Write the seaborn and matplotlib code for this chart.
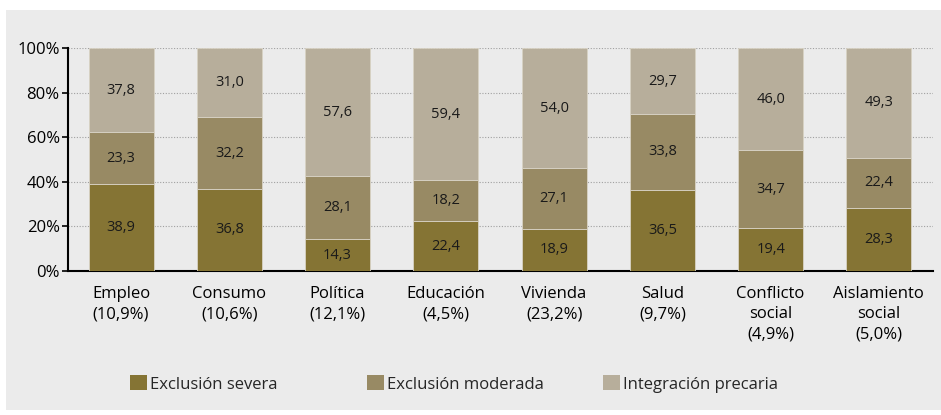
import pandas as pd
import seaborn as sns
import matplotlib.pyplot as plt
from matplotlib.patches import Rectangle
from matplotlib.ticker import PercentFormatter

# Data
categorias = ['Empleo\n(10,9%)', 'Consumo\n(10,6%)', 'Política\n(12,1%)', 'Educación\n(4,5%)',
              'Vivienda\n(23,2%)', 'Salud\n(9,7%)', 'Conflicto\nsocial\n(4,9%)', 'Aislamiento\nsocial\n(5,0%)']
severa = [38.9, 36.8, 14.3, 22.4, 18.9, 36.5, 19.4, 28.3]
moderada = [23.3, 32.2, 28.1, 18.2, 27.1, 33.8, 34.7, 22.4]
precaria = [37.8, 31.0, 57.6, 59.4, 54.0, 29.7, 46.0, 49.3]
series = ['Exclusión severa', 'Exclusión moderada', 'Integración precaria']
colores = ['#857434', '#988a64', '#b7ae9b']

df = pd.DataFrame({'cat': categorias, series[0]: severa, series[1]: moderada, series[2]: precaria})

sns.set_style('white')
plt.rcParams['font.family'] = ['Open Sans', 'DejaVu Sans']

fig = plt.figure(figsize=(9.41, 4.15), dpi=100)
fig.patch.set_facecolor('white')
# grey panel behind the chart
fig.patches.append(Rectangle((6 / 941, 5 / 415), 1, 400 / 415, transform=fig.transFigure,
                             facecolor='#ebebeb', edgecolor='none', zorder=-10))
ax = fig.add_axes([68 / 941, 1 - 271 / 415, (933 - 68) / 941, (271 - 48) / 415])
ax.set_facecolor('#ebebeb')

bottom = [0] * len(categorias)
for s, c in zip(series, colores):
    sns.barplot(data=df, x='cat', y=s, color=c, width=0.6, bottom=bottom, ax=ax,
                edgecolor='#d8d2c4', linewidth=0.6, saturation=1, zorder=3)
    for i, v in enumerate(df[s]):
        ax.text(i, bottom[i] + v / 2, f'{v:.1f}'.replace('.', ','), ha='center', va='center',
                fontsize=10.5, color='#1a1a1a', zorder=4)
    bottom = [b + v for b, v in zip(bottom, df[s])]

ax.set_ylim(0, 100)
ax.set_xlim(-0.49, 7.5)
ax.yaxis.set_major_formatter(PercentFormatter(decimals=0))
ax.set_yticks([0, 20, 40, 60, 80, 100])
ax.grid(axis='y', linestyle=(0, (1, 1.5)), color='#a0a0a0', linewidth=0.8, zorder=0)
ax.set_axisbelow(True)
ax.set_xlabel('')
ax.set_ylabel('')
for sp in ['top', 'right']:
    ax.spines[sp].set_visible(False)
ax.spines['left'].set_linewidth(1.5)
ax.spines['bottom'].set_linewidth(1.5)
ax.spines['left'].set_color('black')
ax.spines['bottom'].set_color('black')
ax.tick_params(axis='y', left=True, length=4, width=1.2, labelsize=12, pad=2, colors='black')
ax.tick_params(axis='x', bottom=False, labelsize=12, pad=7, colors='black')
for lab in ax.get_xticklabels():
    lab.set_linespacing(1.38)

# legend entries at fixed column positions
leg_x = [130, 367, 603]
for s, c, x in zip(series, colores, leg_x):
    h = Rectangle((0, 0), 1, 1, facecolor=c, edgecolor='none')
    fig.legend([h], [s], loc='center left', bbox_to_anchor=(x / 941, 1 - 384 / 415),
               frameon=False, fontsize=12, handlelength=1.0, handleheight=1.0,
               handletextpad=0.2, borderpad=0, borderaxespad=0)

fig.savefig('out.png', dpi=100)
